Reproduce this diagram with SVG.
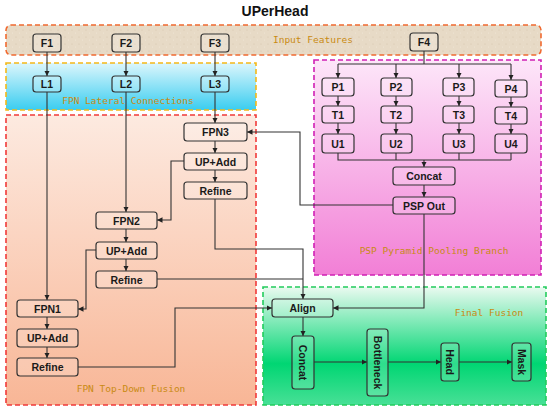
<svg xmlns="http://www.w3.org/2000/svg" width="550" height="409" viewBox="0 0 550 409">
<defs>
<linearGradient id="gLat" x1="0" y1="0" x2="0" y2="1"><stop offset="0" stop-color="#dcf6fc"/><stop offset="1" stop-color="#3acdf0"/></linearGradient>
<linearGradient id="gFpn" x1="0" y1="0" x2="0" y2="1"><stop offset="0" stop-color="#fdeae0"/><stop offset="1" stop-color="#f8b696"/></linearGradient>
<linearGradient id="gPsp" x1="0" y1="0" x2="0" y2="1"><stop offset="0" stop-color="#fde6f9"/><stop offset="1" stop-color="#f27fd6"/></linearGradient>
<linearGradient id="gFin" x1="0" y1="0" x2="0" y2="1"><stop offset="0" stop-color="#eafaf0"/><stop offset="0.65" stop-color="#00d673"/><stop offset="1" stop-color="#48e096"/></linearGradient>
<pattern id="sand" width="7" height="7" patternUnits="userSpaceOnUse"><rect width="7" height="7" fill="#e7dac6"/><circle cx="2" cy="2" r="0.6" fill="#d6c6ae"/><circle cx="5.5" cy="5" r="0.5" fill="#f2e8da"/></pattern>
<marker id="ah" viewBox="0 0 10 10" refX="10" refY="5" markerWidth="5" markerHeight="5" orient="auto-start-reverse"><path d="M0,0 L10,5 L0,10 z" fill="#222"/></marker>
</defs>
<style>
.panel{stroke-width:1.6;stroke-dasharray:5 3}
.plabel{font-family:"DejaVu Sans Mono","Liberation Mono",monospace;font-size:9.5px;fill:#c98a12;text-anchor:middle}
.node rect{fill:#ffffff;fill-opacity:0.18;stroke:#333;stroke-width:1.2}
.node text{font-family:"Liberation Sans",Arial,sans-serif;font-weight:bold;font-size:10.5px;fill:#1a1a1a;text-anchor:middle;dominant-baseline:central}
#connectors path{fill:none;stroke:#333;stroke-width:1.1}
.arr{marker-end:url(#ah)}
</style>
<rect width="550" height="409" fill="#ffffff"/>
<text x="275" y="16" font-family="Liberation Sans,Arial,sans-serif" font-weight="bold" font-size="14" text-anchor="middle" fill="#111">UPerHead</text>

<g id="panels">
<rect class="panel" x="6" y="25" width="535" height="30" rx="5" fill="url(#sand)" stroke="#f06a30"/>
<text class="plabel" x="313" y="43">Input Features</text>
<rect class="panel" x="6" y="63" width="250" height="47" fill="url(#gLat)" stroke="#f4b818"/>
<text class="plabel" x="128" y="104">FPN Lateral Connections</text>
<rect class="panel" x="6" y="115" width="250" height="290" fill="url(#gFpn)" stroke="#f03a3a"/>
<text class="plabel" x="131" y="392">FPN Top-Down Fusion</text>
<rect class="panel" x="314" y="60" width="227" height="215" fill="url(#gPsp)" stroke="#d020b4"/>
<text class="plabel" x="434" y="254">PSP Pyramid Pooling Branch</text>
<rect class="panel" x="263" y="287" width="283" height="118" fill="url(#gFin)" stroke="#22cc5c"/>
<text class="plabel" x="489" y="316">Final Fusion</text>
</g>

<g id="connectors">
<path class="arr" d="M47,52 V76"/>
<path class="arr" d="M126,52 V76"/>
<path class="arr" d="M215,52 V76"/>
<path d="M424,51 V64 M338,64 H511"/>
<path class="arr" d="M338,64 V78"/>
<path class="arr" d="M396,64 V78"/>
<path class="arr" d="M459,64 V78"/>
<path class="arr" d="M511,64 V80"/>
<path class="arr" d="M338,96 V106"/>
<path class="arr" d="M396,96 V106"/>
<path class="arr" d="M459,96 V106"/>
<path class="arr" d="M511,97 V107"/>
<path class="arr" d="M338,123 V134"/>
<path class="arr" d="M396,123 V134"/>
<path class="arr" d="M459,123 V134"/>
<path class="arr" d="M511,124 V134"/>
<path d="M338,153 V160 H511 M396,153 V160 M459,153 V160 M511,153 V160"/>
<path class="arr" d="M424,160 V167"/>
<path class="arr" d="M424,185 V197"/>
<path class="arr" d="M393,205 H300 V132 H247"/>
<path class="arr" d="M424,214 V308 H333"/>
<path class="arr" d="M215,92 V123"/>
<path class="arr" d="M215,141 V153"/>
<path class="arr" d="M215,170 V182"/>
<path class="arr" d="M184,161 H171 V220 H157"/>
<path class="arr" d="M215,199 V249 H303 V299"/>
<path class="arr" d="M126,92 V212"/>
<path class="arr" d="M126,229 V242"/>
<path class="arr" d="M126,259 V271"/>
<path d="M157,279 H303"/>
<path class="arr" d="M96,250 H86 V309 H78"/>
<path class="arr" d="M47,92 V300"/>
<path class="arr" d="M47,317 V329"/>
<path class="arr" d="M47,347 V358"/>
<path class="arr" d="M78,367 H175 V308 H272"/>
<path class="arr" d="M303,317 V336"/>
<path class="arr" d="M314,362 H367"/>
<path class="arr" d="M388,362 H441"/>
<path class="arr" d="M459,362 H512"/>
</g>

<g id="F1" class="node"><rect x="33" y="34" width="28" height="18" rx="3"/><text x="47" y="43">F1</text></g>
<g id="F2" class="node"><rect x="112" y="34" width="28" height="18" rx="3"/><text x="126" y="43">F2</text></g>
<g id="F3" class="node"><rect x="201" y="34" width="28" height="18" rx="3"/><text x="215" y="43">F3</text></g>
<g id="F4" class="node"><rect x="410" y="33" width="28" height="18" rx="3"/><text x="424" y="42">F4</text></g>
<g id="L1" class="node"><rect x="33" y="76" width="28" height="16" rx="3"/><text x="47" y="84">L1</text></g>
<g id="L2" class="node"><rect x="112" y="76" width="28" height="16" rx="3"/><text x="126" y="84">L2</text></g>
<g id="L3" class="node"><rect x="201" y="76" width="28" height="16" rx="3"/><text x="215" y="84">L3</text></g>

<g id="P1" class="node"><rect x="322" y="78" width="32" height="18" rx="3"/><text x="338" y="87">P1</text></g>
<g id="P2" class="node"><rect x="381" y="78" width="31" height="18" rx="3"/><text x="396" y="87">P2</text></g>
<g id="P3" class="node"><rect x="443" y="78" width="31" height="18" rx="3"/><text x="459" y="87">P3</text></g>
<g id="P4" class="node"><rect x="495" y="80" width="32" height="17" rx="3"/><text x="511" y="88.5">P4</text></g>
<g id="T1" class="node"><rect x="322" y="106" width="32" height="17" rx="3"/><text x="338" y="114.5">T1</text></g>
<g id="T2" class="node"><rect x="381" y="106" width="31" height="17" rx="3"/><text x="396" y="114.5">T2</text></g>
<g id="T3" class="node"><rect x="443" y="106" width="31" height="17" rx="3"/><text x="459" y="114.5">T3</text></g>
<g id="T4" class="node"><rect x="495" y="107" width="32" height="17" rx="3"/><text x="511" y="115.5">T4</text></g>
<g id="U1" class="node"><rect x="322" y="134" width="32" height="19" rx="3"/><text x="338" y="143.5">U1</text></g>
<g id="U2" class="node"><rect x="381" y="134" width="31" height="19" rx="3"/><text x="396" y="143.5">U2</text></g>
<g id="U3" class="node"><rect x="443" y="134" width="31" height="19" rx="3"/><text x="459" y="143.5">U3</text></g>
<g id="U4" class="node"><rect x="495" y="134" width="32" height="19" rx="3"/><text x="511" y="143.5">U4</text></g>
<g id="ConcatPSP" class="node"><rect x="393" y="167" width="62" height="18" rx="3"/><text x="424" y="176">Concat</text></g>
<g id="PSPOut" class="node"><rect x="393" y="197" width="62" height="17" rx="3"/><text x="424" y="205.5">PSP Out</text></g>

<g id="FPN3" class="node"><rect x="184" y="123" width="63" height="18" rx="3"/><text x="215.5" y="132">FPN3</text></g>
<g id="UPAdd3" class="node"><rect x="184" y="153" width="63" height="17" rx="3"/><text x="215.5" y="161.5">UP+Add</text></g>
<g id="Refine3" class="node"><rect x="184" y="182" width="63" height="17" rx="3"/><text x="215.5" y="190.5">Refine</text></g>
<g id="FPN2" class="node"><rect x="96" y="212" width="61" height="17" rx="3"/><text x="126.5" y="220.5">FPN2</text></g>
<g id="UPAdd2" class="node"><rect x="96" y="242" width="61" height="17" rx="3"/><text x="126.5" y="250.5">UP+Add</text></g>
<g id="Refine2" class="node"><rect x="96" y="271" width="61" height="17" rx="3"/><text x="126.5" y="279.5">Refine</text></g>
<g id="FPN1" class="node"><rect x="17" y="300" width="61" height="17" rx="3"/><text x="47.5" y="308.5">FPN1</text></g>
<g id="UPAdd1" class="node"><rect x="17" y="329" width="61" height="18" rx="3"/><text x="47.5" y="338">UP+Add</text></g>
<g id="Refine1" class="node"><rect x="17" y="358" width="61" height="18" rx="3"/><text x="47.5" y="367">Refine</text></g>

<g id="Align" class="node"><rect x="272" y="299" width="61" height="18" rx="3"/><text x="302.5" y="308">Align</text></g>
<g id="ConcatFinal" class="node"><rect x="292" y="336" width="22" height="53" rx="3"/><text transform="translate(303,362.5) rotate(90)">Concat</text></g>
<g id="Bottleneck" class="node"><rect x="367" y="329" width="21" height="67" rx="3"/><text transform="translate(377.5,362.5) rotate(90)">Bottleneck</text></g>
<g id="Head" class="node"><rect x="441" y="343" width="18" height="38" rx="3"/><text transform="translate(450,362) rotate(90)">Head</text></g>
<g id="Mask" class="node"><rect x="512" y="343" width="19" height="38" rx="3"/><text transform="translate(521.5,362) rotate(90)">Mask</text></g>
</svg>
